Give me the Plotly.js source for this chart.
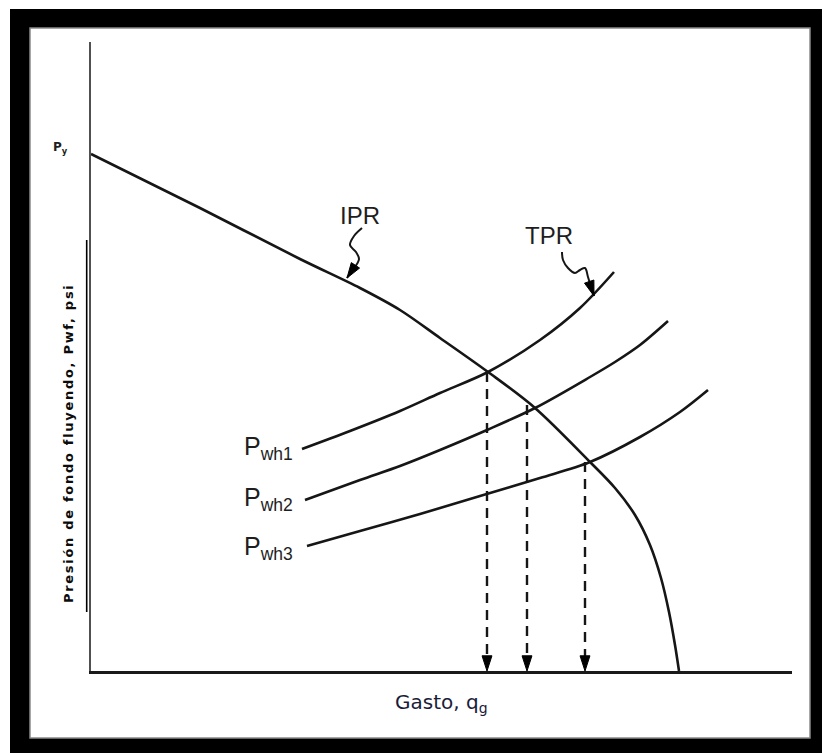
<!DOCTYPE html>
<html>
<head>
<meta charset="utf-8">
<script src="https://cdn.plot.ly/plotly-3.0.1.min.js"></script>
<style>
  html, body { margin: 0; padding: 0; background: #ffffff; }
  #chart { width: 822px; height: 753px; }
</style>
</head>
<body>
<div id="chart"></div>
<script>
// Nodal analysis sketch: inflow (IPR) vs. tubing (TPR) performance, arbitrary units.
// Horizontal: gas rate q_g ; vertical: flowing bottom-hole pressure Pwf.

// Inflow performance relationship
const iprQ = [0, 109, 209, 269, 309, 349, 397, 444, 499, 524, 544, 559, 570, 578, 584, 588];
const iprP = [517, 463, 412, 383, 361, 333, 299, 263, 209, 183, 156, 126, 93, 59, 26, 0];

// Tubing performance curves for three wellhead pressures
const tpr1Q = [211, 259, 309, 349, 397, 449, 489, 523];
const tpr1P = [222, 240, 260, 278, 299, 331, 363, 399];

const tpr2Q = [214, 269, 309, 349, 396, 444, 499, 524, 549, 577];
const tpr2P = [171, 191, 205, 221, 241, 263, 294, 309, 326, 350];

const tpr3Q = [216, 269, 329, 389, 449, 499, 549, 589, 617];
const tpr3P = [125, 140, 157, 175, 193, 209, 234, 259, 281];

// Operating points (projected down to the rate axis)
const opQ = [396, 436, 494];
const opP = [299, 266, 209];

// Wavy pointer lines for the curve names
const iprPtrQ = [271, 263, 259, 265, 268, 264, 258, 256];
const iprPtrP = [443, 435, 426, 419, 412, 404, 396, 393];
const tprPtrQ = [471, 472, 477, 484, 489, 494, 497, 500, 503];
const tprPtrP = [419, 411, 403, 398, 401, 403, 394, 384, 375];

// Text
const curveNames = ['IPR', 'TPR'];
const pwhNames = ['P<sub>wh1</sub>', 'P<sub>wh2</sub>', 'P<sub>wh3</sub>'];
const pyLabel = 'P<sub>y</sub>';
const xTitle = 'Gasto, q<sub>g</sub>';
const yTitle = 'Presión de fondo fluyendo, Pwf, psi';

// ---- layout geometry ----
const W = 822, H = 753;
const M = { l: 91, r: 30, t: 42, b: 82 };
const plotW = W - M.l - M.r, plotH = H - M.t - M.b;
const px2paperX = px => (px - M.l) / plotW;
const py2paperY = py => (H - M.b - py) / plotH;

const INK = '#161616';
const lineStyle = { color: INK, width: 2.6, shape: 'spline', smoothing: 0.9 };

const traces = [
  { x: iprQ, y: iprP, mode: 'lines', line: lineStyle, hoverinfo: 'skip' },
  { x: tpr1Q, y: tpr1P, mode: 'lines', line: lineStyle, hoverinfo: 'skip' },
  { x: tpr2Q, y: tpr2P, mode: 'lines', line: lineStyle, hoverinfo: 'skip' },
  { x: tpr3Q, y: tpr3P, mode: 'lines', line: lineStyle, hoverinfo: 'skip' }
];

// arrow tip on the last point of a polyline
function tipMarker(n, size) {
  const sym = [], sz = [];
  for (let i = 0; i < n; i++) {
    sym.push(i === n - 1 ? 'arrow' : 'circle');
    sz.push(i === n - 1 ? size : 0);
  }
  return {
    symbol: sym, size: sz, color: '#000000', opacity: 1,
    angleref: 'previous', line: { width: 1, color: '#000000' }
  };
}

// wavy pointers with arrow tips
[[iprPtrQ, iprPtrP], [tprPtrQ, tprPtrP]].forEach(([qs, ps]) => {
  traces.push({
    x: qs, y: ps, mode: 'lines+markers', cliponaxis: false,
    line: { color: INK, width: 2, shape: 'spline', smoothing: 1 },
    marker: tipMarker(qs.length, 16), hoverinfo: 'skip'
  });
});

// dashed drops from each operating point to the rate axis
opQ.forEach((q, i) => {
  traces.push({
    x: [q, q], y: [opP[i], 0], mode: 'lines+markers', cliponaxis: false,
    line: { color: INK, width: 2.4, dash: '10px,7px' },
    marker: tipMarker(2, 16), hoverinfo: 'skip'
  });
});

const annotations = [];
const narrow = 'Liberation Sans Narrow, Arial Narrow, Liberation Sans, Arial, sans-serif';

// curve names
const curveNamePos = [[269, 456], [458, 436]];
curveNames.forEach((t, i) => {
  annotations.push({
    x: curveNamePos[i][0], y: curveNamePos[i][1], xref: 'x', yref: 'y',
    text: t, showarrow: false, xanchor: 'center', yanchor: 'middle',
    font: { family: narrow, size: 24, color: '#1e1e1e' }
  });
});

// wellhead pressure labels
const pwhPos = [[151, 223], [151, 172], [151, 123]];
pwhNames.forEach((t, i) => {
  annotations.push({
    x: pwhPos[i][0], y: pwhPos[i][1], xref: 'x', yref: 'y',
    text: t, showarrow: false, xanchor: 'left', yanchor: 'middle',
    font: { family: narrow, size: 25, color: '#1e1e1e' }
  });
});

// reservoir pressure mark on the pressure axis
annotations.push({
  x: px2paperX(70), y: 523, xref: 'paper', yref: 'y',
  text: '<b>' + pyLabel + '</b>', showarrow: false, xanchor: 'right', yanchor: 'middle',
  font: { family: 'DejaVu Sans, sans-serif', size: 12, color: '#1e1e1e' }
});

// vertical axis title
annotations.push({
  x: px2paperX(68), y: py2paperY(444), xref: 'paper', yref: 'paper',
  text: '<b><span style="letter-spacing:1.7px">' + yTitle + '</span></b>',
  textangle: -90, showarrow: false, xanchor: 'center', yanchor: 'middle',
  font: { family: 'DejaVu Sans, sans-serif', size: 13, color: '#0c0c0c' }
});

// horizontal axis title
annotations.push({
  x: px2paperX(442), y: py2paperY(703), xref: 'paper', yref: 'paper',
  text: xTitle, showarrow: false, xanchor: 'center', yanchor: 'middle',
  font: { family: 'DejaVu Sans, Verdana, sans-serif', size: 20, color: '#1a1c3a' }
});

// picture frame and the short rule beside the pressure axis
const shapes = [
  { type: 'rect', xref: 'paper', yref: 'paper', layer: 'below',
    x0: px2paperX(10), x1: px2paperX(830), y0: py2paperY(9), y1: py2paperY(760),
    fillcolor: '#000000', line: { width: 0 } },
  { type: 'rect', xref: 'paper', yref: 'paper', layer: 'below',
    x0: px2paperX(30), x1: px2paperX(810), y0: py2paperY(28), y1: py2paperY(738),
    fillcolor: '#ffffff', line: { color: '#8a8a8a', width: 1.5 } },
  { type: 'line', xref: 'paper', yref: 'paper',
    x0: px2paperX(86.7), x1: px2paperX(86.7), y0: py2paperY(240), y1: py2paperY(612),
    line: { color: '#000000', width: 1.6 } }
];

const layout = {
  width: W, height: H, autosize: false,
  margin: M,
  paper_bgcolor: '#ffffff',
  plot_bgcolor: 'rgba(0,0,0,0)',
  showlegend: false,
  xaxis: {
    range: [0, plotW], showgrid: false, zeroline: false, showticklabels: false, ticks: '',
    showline: true, linecolor: '#1a1a1a', linewidth: 2.6, fixedrange: true
  },
  yaxis: {
    range: [0, plotH], showgrid: false, zeroline: false, showticklabels: false, ticks: '',
    showline: true, linecolor: '#505050', linewidth: 2.4, fixedrange: true
  },
  annotations: annotations,
  shapes: shapes
};

Plotly.newPlot('chart', traces, layout, { displayModeBar: false, staticPlot: true });
</script>
</body>
</html>
